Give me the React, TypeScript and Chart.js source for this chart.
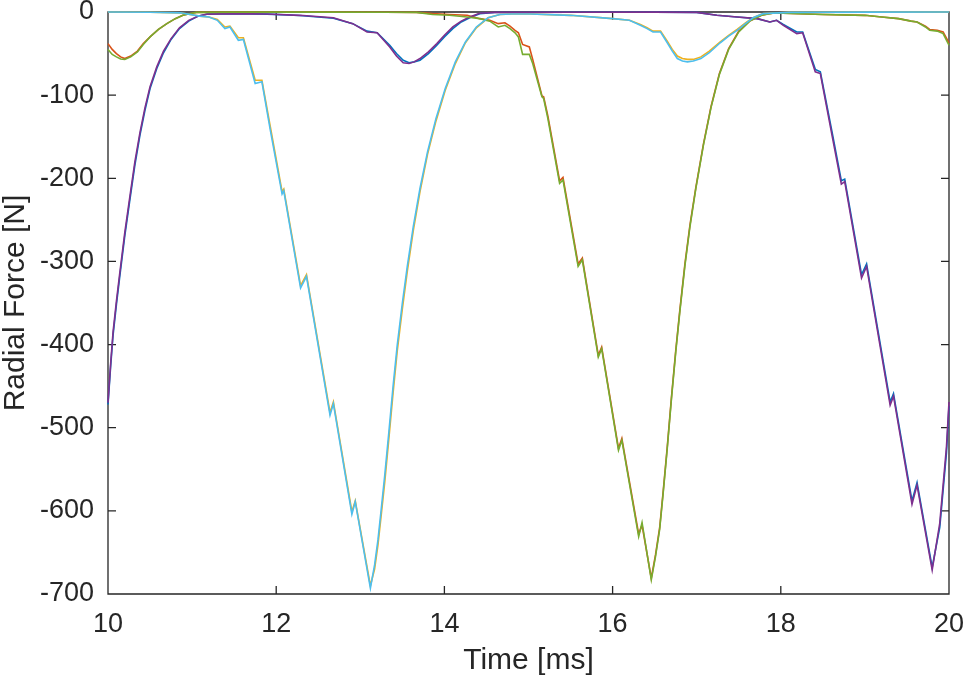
import { useEffect, useRef } from 'react';
import Chart from 'chart.js/auto';

// Time samples [ms] and radial force [N]
const timeA = [10.0, 10.5, 10.86, 11.09, 11.2, 11.3, 11.39, 11.45, 11.55, 11.61, 11.75, 11.83, 11.93, 12.07, 12.09, 12.29, 12.36, 12.64, 12.68, 12.9, 12.94, 13.12, 13.17, 13.21, 13.25, 13.29, 13.34, 13.39, 13.44, 13.5, 13.56, 13.63, 13.71, 13.8, 13.9, 14.01, 14.13, 14.25, 14.38, 14.52, 14.66, 14.8, 15.02, 15.5, 16.0, 16.2, 16.33, 16.41, 16.48, 16.57, 16.65, 16.71, 16.77, 16.83, 16.89, 16.96, 17.05, 17.15, 17.28, 17.38, 17.48, 17.58, 17.67, 17.79, 18.1, 19.0, 20.0];
const forceYellow = [0, -0.3, -1, -5, -6, -9, -18, -17, -31, -31, -82, -82, -138, -216, -213, -329, -316, -482, -469, -601, -588, -690, -670, -641, -604, -566, -513, -458, -407, -357, -311, -263, -216, -171, -131, -94, -62, -37, -19, -7, -3, -2.4, -2.4, -4, -8, -10, -15, -19, -23, -23, -35, -45, -53, -56, -57, -57, -54, -47, -36, -28, -21, -13, -7, -2, -0.5, -0.2, 0];
const forceLightBlue = [0, -0.3, -1, -5, -6, -10, -20, -18, -34, -33, -86, -84, -142, -219, -215, -332, -318, -485, -471, -604, -589, -693, -665, -635, -597, -558, -505, -450, -400, -350, -305, -258, -212, -168, -128, -92, -60, -36, -18, -7, -3, -2.4, -2.4, -4, -8, -10, -16, -20, -24, -24, -37, -47, -56, -59, -60, -59, -56, -49, -37, -29, -22, -14, -7, -2, -0.5, -0.2, 0];

const timeB = [10.0, 10.05, 10.1, 10.15, 10.2, 10.27, 10.35, 10.42, 10.5, 10.6, 10.7, 10.8, 10.89, 10.97, 11.05, 11.5, 12.5, 13.3, 13.67, 13.86, 14.06, 14.27, 14.42, 14.54, 14.64, 14.72, 14.78, 14.84, 14.88, 14.93, 15.01, 15.05, 15.16, 15.18, 15.23, 15.37, 15.41, 15.59, 15.64, 15.83, 15.87, 16.07, 16.11, 16.31, 16.35, 16.46, 16.51, 16.56, 16.6, 16.65, 16.7, 16.75, 16.8, 16.86, 16.92, 16.99, 17.08, 17.17, 17.27, 17.38, 17.5, 17.63, 17.77, 17.93, 18.5, 19.0, 19.2, 19.4, 19.55, 19.62, 19.72, 19.77, 19.86, 19.93, 20.0];
const forceOrange = [-38, -45, -50, -54, -56, -53, -47, -38, -30, -21, -14, -8, -4, -2, -0.5, -0.2, -0.2, -0.3, -0.5, -2, -3, -4, -8, -10, -14, -13, -17, -22, -25, -39, -42, -57, -101, -102, -125, -203, -199, -303, -296, -413, -403, -525, -513, -628, -617, -681, -653, -620, -578, -523, -463, -408, -358, -303, -256, -211, -159, -114, -74, -44, -23, -11, -4, -1, -3, -4, -6, -8, -11, -12, -17, -21, -22, -24, -37];
const forceGreen = [-45, -51, -54, -56.5, -57, -54, -48, -39, -30, -21, -14, -8, -4, -2, -0.5, -0.2, -0.2, -0.3, -0.5, -3, -4, -6, -8, -11, -18, -16, -20, -25, -30, -51, -51, -62, -102, -104, -128, -206, -202, -306, -298, -415, -405, -527, -515, -631, -614, -683, -655, -622, -580, -525, -465, -410, -360, -305, -258, -212, -160, -115, -75, -45, -24, -11, -4, -1, -3, -4, -6, -8, -11, -12, -18, -22, -23, -26, -40];

const timeC = [10.0, 10.03, 10.06, 10.1, 10.14, 10.2, 10.26, 10.32, 10.38, 10.44, 10.5, 10.58, 10.66, 10.75, 10.85, 10.96, 11.07, 11.18, 11.5, 11.89, 12.28, 12.68, 12.91, 13.08, 13.2, 13.35, 13.43, 13.51, 13.58, 13.64, 13.71, 13.81, 13.91, 14.0, 14.1, 14.2, 14.3, 14.42, 14.6, 15.5, 16.5, 17.0, 17.24, 17.48, 17.72, 17.87, 17.95, 18.03, 18.19, 18.26, 18.41, 18.47, 18.62, 18.72, 18.76, 18.96, 19.02, 19.3, 19.34, 19.56, 19.62, 19.8, 19.89, 19.97, 20.0];
const forceBlue = [-472, -428, -389, -352, -318, -269, -226, -184, -148, -118, -92, -68, -49, -33, -20, -11, -5, -2.6, -2.1, -2.5, -4.2, -7.5, -14, -23, -25, -40, -50, -58, -61, -60, -58, -50, -40, -30, -20, -12, -7, -2, -0.6, -0.3, -0.2, -0.5, -4, -6, -8, -12, -10, -15, -24, -24, -69, -72, -150, -203, -201, -316, -303, -469, -459, -588, -566, -668, -620, -530, -474];
const forcePurple = [-470, -425, -385, -348, -314, -265, -222, -180, -145, -115, -90, -66, -47, -32, -19, -10, -5, -2.5, -2, -2.4, -4, -7, -14, -24, -25, -42, -53, -61, -62, -60, -56, -48, -38, -28, -18, -11, -6, -1.5, -0.5, -0.3, -0.2, -0.5, -4, -6, -8, -12, -10, -16, -26, -25, -72, -74, -154, -207, -204, -320, -306, -473, -462, -592, -569, -671, -615, -523, -469];

const xTicks = [10, 12, 14, 16, 18, 20];
const yTicks = [0, -100, -200, -300, -400, -500, -600, -700];

const AXIS = '#262626';
const FONT = '"Liberation Sans", Arial, Helvetica, sans-serif';
const TICK_LEN = 8;

const zip = (t: number[], f: number[]) => t.map((x, i) => ({ x, y: f[i] }));

// axes box with inward ticks, drawn under the lines like MATLAB
const boxPlugin = {
  id: 'boxPlugin',
  beforeDatasetsDraw(chart: any) {
    const { ctx, chartArea: { left, right, top, bottom }, scales: { x, y } } = chart;
    ctx.save();
    ctx.strokeStyle = AXIS;
    ctx.lineWidth = 1.3;
    ctx.beginPath();
    ctx.rect(left, top, right - left, bottom - top);
    xTicks.forEach((v) => {
      const px = x.getPixelForValue(v);
      ctx.moveTo(px, bottom);
      ctx.lineTo(px, bottom - TICK_LEN);
      ctx.moveTo(px, top);
      ctx.lineTo(px, top + TICK_LEN);
    });
    yTicks.forEach((v) => {
      const py = y.getPixelForValue(v);
      ctx.moveTo(left, py);
      ctx.lineTo(left + TICK_LEN, py);
      ctx.moveTo(right, py);
      ctx.lineTo(right - TICK_LEN, py);
    });
    ctx.stroke();
    ctx.restore();
  },
};

export default function App() {
  const canvasRef = useRef<HTMLCanvasElement>(null);

  useEffect(() => {
    document.body.style.margin = '0';
    if (!canvasRef.current) return;

    const line = (data: { x: number; y: number }[], color: string) => ({
      data,
      borderColor: color,
      borderWidth: 1.6,
      pointRadius: 0,
      tension: 0,
      fill: false,
      clip: 4,
    });

    // first dataset is drawn on top, so the list runs from the last plotted line back
    const chart = new Chart(canvasRef.current, {
      type: 'line',
      data: {
        datasets: [
          line(zip(timeA, forceLightBlue), '#4DBEEE'),
          line(zip(timeB, forceGreen), '#77AC30'),
          line(zip(timeC, forcePurple), '#7E2F8E'),
          line(zip(timeA, forceYellow), '#EDB120'),
          line(zip(timeB, forceOrange), '#D95319'),
          line(zip(timeC, forceBlue), '#0072BD'),
        ],
      },
      options: {
        animation: false,
        responsive: false,
        layout: { padding: { left: 0, top: 12, right: 19, bottom: 0 } },
        plugins: { legend: { display: false }, tooltip: { enabled: false } },
        scales: {
          x: {
            type: 'linear',
            min: 10,
            max: 20,
            afterBuildTicks: (s: any) => { s.ticks = xTicks.map((value) => ({ value })); },
            afterFit: (s: any) => { s.height = 89; s.paddingLeft = 0; s.paddingRight = 0; },
            grid: { display: false, drawTicks: false },
            border: { display: false },
            ticks: { color: AXIS, padding: 14, maxRotation: 0, autoSkip: false, font: { family: FONT, size: 27 } },
            title: {
              display: true,
              text: 'Time [ms]',
              color: AXIS,
              font: { family: FONT, size: 30, lineHeight: 1 },
              padding: { top: 0, bottom: 7 },
            },
          },
          y: {
            type: 'linear',
            min: -700,
            max: 0,
            afterBuildTicks: (s: any) => { s.ticks = yTicks.map((value) => ({ value })); },
            afterFit: (s: any) => { s.width = 108; s.paddingTop = 0; s.paddingBottom = 0; },
            grid: { display: false, drawTicks: false },
            border: { display: false },
            ticks: { color: AXIS, padding: 14, autoSkip: false, font: { family: FONT, size: 27 } },
            title: {
              display: true,
              text: 'Radial Force [N]',
              color: AXIS,
              font: { family: FONT, size: 30, lineHeight: 1 },
              padding: { top: 1, bottom: 0 },
            },
          },
        },
      },
      plugins: [boxPlugin],
    });
    return () => chart.destroy();
  }, []);

  return (
    <div style={{ width: 968, height: 683, background: '#fff' }}>
      <canvas ref={canvasRef} width={968} height={683} style={{ display: 'block' }}></canvas>
    </div>
  );
}
